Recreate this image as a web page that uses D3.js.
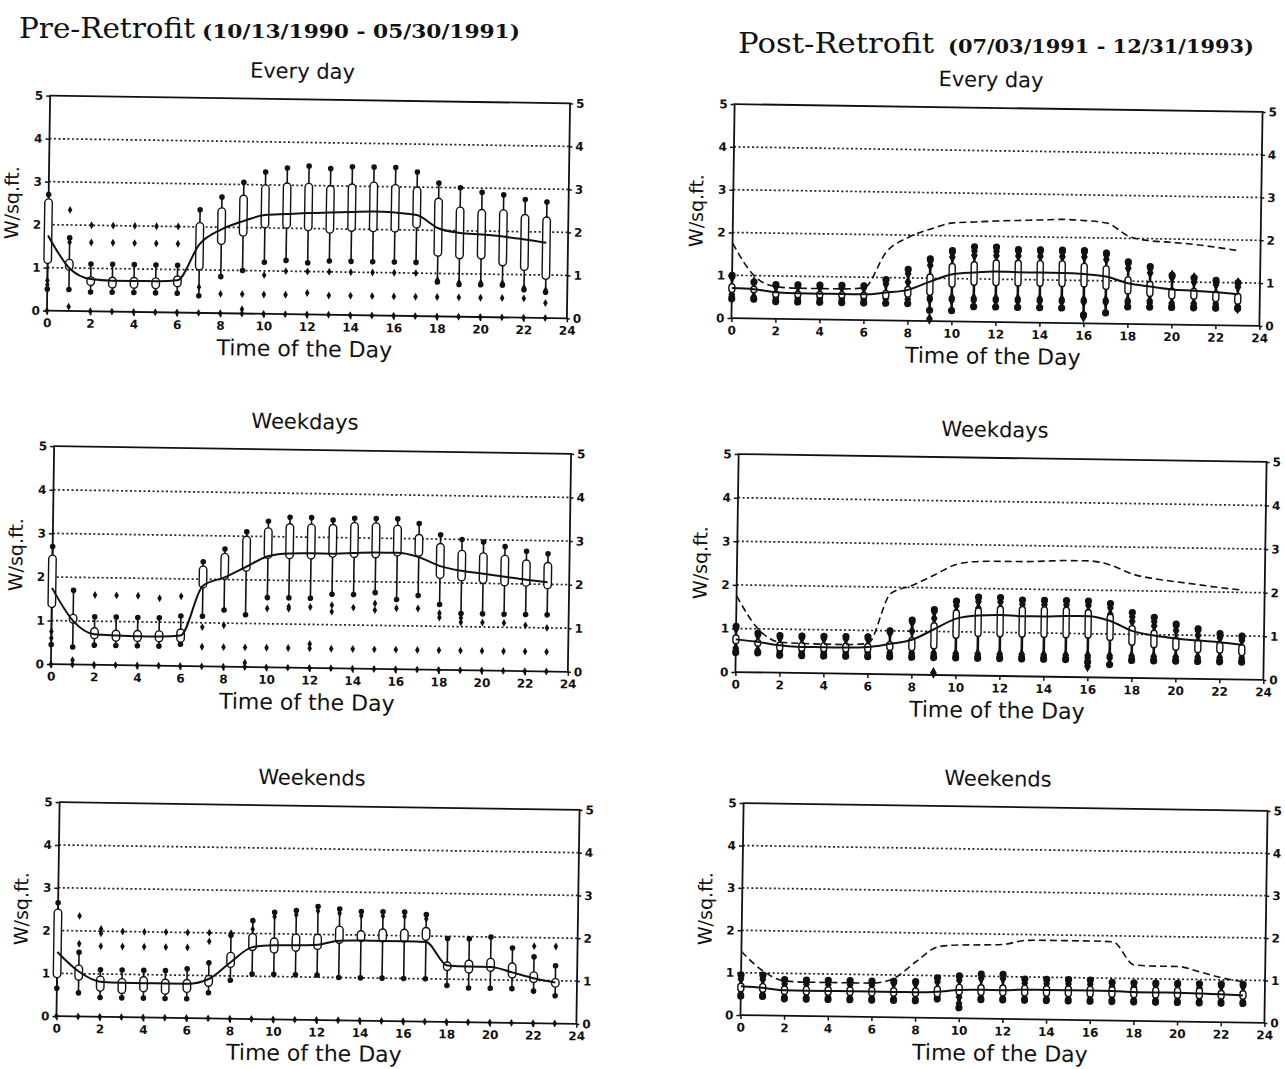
<!DOCTYPE html>
<html><head><meta charset="utf-8">
<script src="https://cdn.jsdelivr.net/npm/d3@7/dist/d3.min.js"></script>
<style>body{margin:0;background:#fff}</style>
</head><body>
<svg id="c" width="1285" height="1069" xmlns="http://www.w3.org/2000/svg"></svg>
<script>
// ---------- categories / ticks ----------
const hours = [0,1,2,3,4,5,6,7,8,9,10,11,12,13,14,15,16,17,18,19,20,21,22,23];
const xTicks = [0,2,4,6,8,10,12,14,16,18,20,22,24];
const yTicks = [0,1,2,3,4,5];
const yGrid = [1,2,3,4];

// ---------- Pre-retrofit, every day ----------
const preEveryMean = [1.75,1.0,0.75,0.72,0.72,0.72,0.75,1.6,1.95,2.15,2.3,2.33,2.36,2.38,2.4,2.42,2.4,2.35,2.05,1.95,1.92,1.88,1.82,1.75];
const preEveryQ1 = [1.1,0.95,0.6,0.55,0.55,0.55,0.6,1.0,1.6,1.8,2.0,2.0,1.95,1.9,1.95,1.95,1.95,2.05,1.4,1.35,1.35,1.2,1.1,0.9];
const preEveryQ3 = [2.6,1.2,0.8,0.8,0.8,0.8,0.85,2.1,2.45,2.75,3.0,3.05,3.05,3.0,3.05,3.1,3.05,3.0,2.75,2.55,2.5,2.5,2.4,2.35];
const preEveryLo = [0.5,0.5,0.45,0.45,0.45,0.45,0.45,0.4,0.85,1.0,1.2,1.25,1.2,1.25,1.25,1.25,1.25,1.25,0.8,0.75,0.75,0.75,0.65,0.6];
const preEveryHi = [2.7,1.7,1.1,1.1,1.1,1.1,1.1,2.4,2.7,3.05,3.3,3.4,3.45,3.4,3.45,3.45,3.45,3.35,3.1,3.0,2.9,2.85,2.75,2.7];
const preEveryOut = [[0.7,0.6,0],[2.35,1.6,0.1],[2.0,1.6,0],[2.0,1.6,0],[2.0,1.6,0],[2.0,1.6,0],[2.0,1.6,0],[0.6,0],[0.45,0],[0.45,0.1,0],[0.9,0.45,0],[1.0,0.45,0],[1.0,0.5,0],[1.0,0.45,0],[1.0,0.45,0],[1.0,0.45,0],[1.0,0.45,0],[1.0,0.45,0],[0.85,0.45,0],[0.8,0.45,0],[0.8,0.45,0],[0.8,0.45,0],[0.7,0.45,0],[0.65,0.35,0]];

// ---------- Pre-retrofit, weekdays ----------
const preWkdMean = [1.75,1.0,0.7,0.68,0.67,0.67,0.7,1.85,2.05,2.3,2.55,2.62,2.63,2.63,2.65,2.67,2.67,2.58,2.38,2.28,2.22,2.16,2.1,2.05];
const preWkdQ1 = [1.3,0.95,0.6,0.55,0.55,0.55,0.55,1.8,2.0,2.2,2.5,2.5,2.5,2.55,2.55,2.55,2.6,2.6,2.1,2.05,2.0,1.95,1.95,1.9];
const preWkdQ3 = [2.5,1.15,0.85,0.8,0.8,0.8,0.85,2.3,2.6,3.0,3.2,3.3,3.3,3.3,3.35,3.35,3.3,3.1,2.9,2.75,2.7,2.65,2.55,2.5];
const preWkdLo = [0.45,0.4,0.45,0.45,0.45,0.45,0.5,1.15,1.3,1.2,1.6,1.6,1.6,1.7,1.7,1.75,1.6,1.7,1.5,1.3,1.3,1.3,1.3,1.3];
const preWkdHi = [2.7,1.7,1.1,1.1,1.1,1.1,1.15,2.4,2.7,3.1,3.35,3.45,3.45,3.4,3.45,3.45,3.45,3.35,3.1,3.0,2.95,2.85,2.75,2.7];
const preWkdOut = [[0.75,0.6,0],[0.1,0],[1.6,0],[1.6,0],[1.6,0],[1.55,0],[1.6,0],[0.9,0.45,0],[0.95,0.45,0],[0.45,0.1,0],[1.35,0.45,0],[1.4,1.35,0.45,0],[1.4,0.55,0.45,0],[1.45,1.3,0.45,0],[1.4,0.45,0],[1.5,1.35,0.45,0],[1.4,0.45,0],[1.4,0.45,0],[1.3,1.2,0.45,0],[1.2,1.1,0.45,0],[1.1,0.45,0],[1.1,0.45,0],[1.05,0.45,0],[1.0,0.45,0]];

// ---------- Pre-retrofit, weekends ----------
const preWkeMean = [1.5,1.05,0.82,0.8,0.8,0.8,0.8,0.92,1.32,1.68,1.73,1.74,1.76,1.86,1.87,1.87,1.87,1.86,1.32,1.3,1.3,1.18,1.05,0.96];
const preWkeQ1 = [0.9,0.85,0.6,0.55,0.6,0.55,0.6,0.75,1.2,1.6,1.55,1.6,1.65,1.8,1.85,1.85,1.85,1.9,1.2,1.15,1.2,1.05,0.95,0.85];
const preWkeQ3 = [2.5,1.2,0.95,0.9,0.95,0.9,0.9,1.0,1.55,2.0,1.9,2.0,2.0,2.2,2.1,2.15,2.15,2.2,1.4,1.45,1.5,1.4,1.2,1.05];
const preWkeLo = [0.65,0.55,0.45,0.45,0.45,0.45,0.45,0.6,0.9,1.05,1.05,1.05,1.05,1.0,1.0,1.0,1.0,1.0,0.85,0.8,0.8,0.8,0.75,0.65];
const preWkeHi = [2.65,1.5,1.1,1.1,1.1,1.1,1.15,1.3,1.95,2.3,2.5,2.55,2.65,2.6,2.55,2.55,2.55,2.5,1.95,1.95,2.0,1.75,1.55,1.35];
const preWkeOut = [[0],[2.35,1.7,0],[2.05,1.95,1.65,0],[2.0,1.65,0],[2.0,1.65,0],[2.0,1.65,0],[2.0,1.65,0],[2.0,1.8,0],[2.0,0],[2.1,0],[2.4,0],[2.45,0],[2.55,0],[2.5,0],[2.45,0],[2.45,0],[2.45,0],[2.4,0],[0],[0],[0],[0],[1.8,0],[1.8,0]];

// ---------- Post-retrofit, every day ----------
const postEveryMean = [0.7,0.68,0.62,0.6,0.6,0.6,0.6,0.65,0.72,0.92,1.1,1.15,1.18,1.17,1.17,1.17,1.15,1.1,0.95,0.88,0.82,0.8,0.77,0.73];
const postEveryQ1 = [0.6,0.6,0.5,0.5,0.5,0.5,0.5,0.5,0.55,0.6,0.8,0.85,0.85,0.85,0.85,0.85,0.85,0.8,0.7,0.65,0.6,0.6,0.55,0.5];
const postEveryQ3 = [0.8,0.75,0.65,0.65,0.65,0.65,0.65,0.7,0.8,1.1,1.35,1.4,1.45,1.45,1.45,1.45,1.4,1.35,1.1,1.0,0.85,0.85,0.8,0.75];
const postEveryLo = [0.45,0.45,0.4,0.4,0.4,0.4,0.4,0.4,0.4,0.25,0.25,0.35,0.35,0.35,0.35,0.35,0.2,0.25,0.4,0.4,0.4,0.4,0.4,0.4];
const postEveryHi = [1.0,0.85,0.8,0.8,0.8,0.8,0.8,0.95,1.2,1.45,1.65,1.75,1.75,1.7,1.7,1.7,1.7,1.65,1.45,1.35,1.15,1.1,1.05,1.0];
const postEveryOut = [[0.5,0.55,0.95],[0.5,0.85],[0.45,0.5,0.75],[0.45,0.5,0.75],[0.45,0.5,0.75],[0.45,0.5,0.75],[0.45,0.5,0.75],[0.5,0.85],[0.5,0.9,1.1],[0.5,0.55,1.3,1.4,0.05],[0.5,0.55,1.5,1.6],[0.5,0.55,1.55,1.65],[0.5,0.55,1.55,1.65],[0.5,0.55,1.55,1.65],[0.5,0.55,1.55,1.65],[0.5,0.55,1.55,1.65],[0.5,0.55,1.55,1.65,0.15],[0.5,0.55,1.5,1.6],[0.5,0.55,1.3,1.4],[0.5,0.55,1.2,1.3],[0.45,0.5,1.1,1.15],[0.45,0.5,1.0,1.1],[0.45,0.5,0.95,1.0],[0.4,0.45,0.9,1.0]];

// ---------- Post-retrofit, weekdays ----------
const postWkdMean = [0.75,0.7,0.63,0.6,0.6,0.6,0.62,0.7,0.8,1.05,1.3,1.38,1.4,1.38,1.38,1.4,1.4,1.3,1.08,0.98,0.92,0.88,0.85,0.8];
const postWkdQ1 = [0.65,0.6,0.5,0.5,0.5,0.5,0.5,0.55,0.55,0.6,0.85,0.9,0.9,0.9,0.9,0.9,0.9,0.85,0.75,0.7,0.65,0.6,0.6,0.55];
const postWkdQ3 = [0.85,0.75,0.7,0.7,0.7,0.7,0.7,0.75,0.85,1.2,1.5,1.55,1.6,1.6,1.6,1.6,1.55,1.45,1.2,1.1,0.95,0.9,0.85,0.8];
const postWkdLo = [0.45,0.45,0.4,0.4,0.4,0.4,0.4,0.4,0.4,0.4,0.4,0.4,0.4,0.4,0.4,0.4,0.35,0.3,0.4,0.4,0.4,0.4,0.4,0.4];
const postWkdHi = [1.05,0.9,0.85,0.85,0.85,0.85,0.85,1.0,1.25,1.5,1.7,1.8,1.8,1.75,1.75,1.75,1.75,1.7,1.5,1.4,1.25,1.15,1.05,1.0];
const postWkdOut = [[0.5,0.55,1.0],[0.5,0.85],[0.45,0.5,0.8],[0.45,0.5,0.8],[0.45,0.5,0.8],[0.45,0.5,0.8],[0.45,0.5,0.8],[0.45,0.5,0.95],[0.45,0.5,1.0,1.2],[0.45,0.5,1.3,1.45,0.05],[0.45,0.5,1.45,1.6],[0.45,0.5,1.55,1.7],[0.45,0.5,1.55,1.7],[0.45,0.5,1.5,1.65],[0.45,0.5,1.5,1.65],[0.45,0.5,1.5,1.65],[0.45,0.5,1.5,1.65,0.25],[0.45,0.5,1.45,1.6],[0.45,0.5,1.3,1.4],[0.45,0.5,1.2,1.3],[0.45,0.5,1.1,1.2],[0.45,0.5,1.0,1.1],[0.45,0.5,0.95,1.0],[0.45,0.5,0.9,0.95]];

// ---------- Post-retrofit, weekends ----------
const postWkeMean = [0.68,0.65,0.6,0.6,0.6,0.6,0.6,0.6,0.6,0.62,0.67,0.68,0.68,0.7,0.7,0.7,0.7,0.7,0.68,0.68,0.68,0.67,0.66,0.64];
const postWkeQ1 = [0.55,0.55,0.5,0.5,0.5,0.5,0.5,0.5,0.5,0.5,0.55,0.55,0.55,0.55,0.55,0.55,0.55,0.55,0.55,0.55,0.55,0.55,0.55,0.55];
const postWkeQ3 = [0.75,0.75,0.7,0.7,0.7,0.7,0.7,0.7,0.7,0.75,0.8,0.8,0.8,0.8,0.8,0.8,0.8,0.8,0.8,0.8,0.8,0.8,0.75,0.75];
const postWkeLo = [0.45,0.45,0.4,0.4,0.4,0.4,0.4,0.4,0.4,0.45,0.25,0.45,0.45,0.45,0.45,0.45,0.45,0.45,0.45,0.45,0.45,0.45,0.45,0.45];
const postWkeHi = [0.95,0.95,0.85,0.85,0.85,0.85,0.85,0.85,0.85,0.95,1.0,1.05,1.05,0.95,0.95,0.95,0.95,0.9,0.9,0.9,0.9,0.9,0.9,0.9];
const postWkeOut = [[0.5,0.85],[0.5,0.85],[0.45,0.75],[0.45,0.75],[0.45,0.75],[0.45,0.75],[0.45,0.75],[0.45,0.8],[0.45,0.8],[0.5,0.85],[0.35,0.5,0.9],[0.5,0.95],[0.5,0.95],[0.5,0.85],[0.5,0.85],[0.5,0.85],[0.5,0.85],[0.5,0.8],[0.5,0.8],[0.5,0.85],[0.5,0.85],[0.5,0.8],[0.5,0.85],[0.5,0.85]];

// ---------- texts ----------
const preTitle = "Pre-Retrofit", preDates = "(10/13/1990 - 05/30/1991)";
const postTitle = "Post-Retrofit", postDates = "(07/03/1991 - 12/31/1993)";
const subTitles = ["Every day","Weekdays","Weekends"];
const xLabel = "Time of the Day", yLabel = "W/sq.ft.";

// ---------- layout ----------
const ROT = 0.85;
const panels = [
  {cx:308.5,cy:207,w:520,h:215,title:subTitles[0],mean:preEveryMean,q1:preEveryQ1,q3:preEveryQ3,lo:preEveryLo,hi:preEveryHi,out:preEveryOut,post:false},
  {cx:311,cy:559,w:517,h:218,title:subTitles[1],mean:preWkdMean,q1:preWkdQ1,q3:preWkdQ3,lo:preWkdLo,hi:preWkdHi,out:preWkdOut,post:false},
  {cx:318,cy:913,w:520,h:214,title:subTitles[2],mean:preWkeMean,q1:preWkeQ1,q3:preWkeQ3,lo:preWkeLo,hi:preWkeHi,out:preWkeOut,post:false},
  {cx:997,cy:215,w:528,h:214,title:subTitles[0],mean:postEveryMean,q1:postEveryQ1,q3:postEveryQ3,lo:postEveryLo,hi:postEveryHi,out:postEveryOut,post:true,ref:preEveryMean},
  {cx:1001,cy:567,w:528,h:218,title:subTitles[1],mean:postWkdMean,q1:postWkdQ1,q3:postWkdQ3,lo:postWkdLo,hi:postWkdHi,out:postWkdOut,post:true,ref:preWkdMean},
  {cx:1004,cy:913,w:524,h:212,title:subTitles[2],mean:postWkeMean,q1:postWkeQ1,q3:postWkeQ3,lo:postWkeLo,hi:postWkeHi,out:postWkeOut,post:true,ref:preWkeMean}
];

const svg = d3.select("#c");
const SANS = "'DejaVu Sans', sans-serif";
const SERIF = "'DejaVu Serif', serif";

// main titles
function mainTitle(x, y, t, tLen, d, dx, dLen) {
  svg.append("text").attr("x", x).attr("y", y).attr("fill", "#111")
    .attr("font-family", SERIF).attr("font-size", 28)
    .attr("textLength", tLen).attr("lengthAdjust", "spacingAndGlyphs").text(t);
  svg.append("text").attr("x", dx).attr("y", y).attr("fill", "#111")
    .attr("font-family", SERIF).attr("font-weight", "bold").attr("font-size", 18)
    .attr("textLength", dLen).attr("lengthAdjust", "spacingAndGlyphs").text(d);
}
mainTitle(19, 38, preTitle, 176, preDates, 202, 318);
mainTitle(738, 53, postTitle, 196, postDates, 948, 306);

panels.forEach(p => {
  const left = p.cx - p.w/2, right = p.cx + p.w/2, top = p.cy - p.h/2, bottom = p.cy + p.h/2;
  const g = svg.append("g").attr("transform", `rotate(${ROT},${p.cx},${p.cy})`);
  const x = d3.scaleLinear().domain([0,24]).range([left,right]);
  const y = d3.scaleLinear().domain([0,5]).range([bottom,top]);

  // subtitle
  g.append("text").attr("x", p.cx - 8).attr("y", top - 21).attr("text-anchor","middle")
    .attr("font-family", SANS).attr("font-size", 21).attr("fill","#111").text(p.title);

  // grid
  g.selectAll(".grid").data(yGrid).join("line")
    .attr("x1", left).attr("x2", right).attr("y1", d => y(d)).attr("y2", d => y(d))
    .attr("stroke","#222").attr("stroke-width",1.7).attr("stroke-dasharray","2,2.5");

  // axes
  const fmt = d3.format("d");
  const axL = g.append("g").attr("transform",`translate(${left},0)`)
    .call(d3.axisLeft(y).tickValues(yTicks).tickFormat(fmt).tickSize(4).tickPadding(3));
  const axR = g.append("g").attr("transform",`translate(${right},0)`)
    .call(d3.axisRight(y).tickValues(yTicks).tickFormat(fmt).tickSize(3).tickPadding(3));
  const axB = g.append("g").attr("transform",`translate(0,${bottom})`)
    .call(d3.axisBottom(x).tickValues(xTicks).tickFormat(fmt).tickSize(4).tickPadding(4));
  [axL, axR, axB].forEach(a => {
    a.select(".domain").remove();
    a.selectAll("line").attr("stroke","#111").attr("stroke-width",1.5);
    a.selectAll("text").attr("font-family", SANS).attr("font-weight","bold")
      .attr("font-size", 12).attr("fill","#111");
  });

  // frame
  g.append("rect").attr("x", left).attr("y", top).attr("width", p.w).attr("height", p.h)
    .attr("fill","none").attr("stroke","#111").attr("stroke-width",1.8);

  // axis labels
  g.append("text").attr("x", p.cx - 2).attr("y", Math.min(bottom + 42, 1061)).attr("text-anchor","middle")
    .attr("font-family", SANS).attr("font-size", 22).attr("fill","#111").text(xLabel);
  g.append("text").attr("transform", `translate(${left - 30},${p.cy}) rotate(-90)`)
    .attr("text-anchor","middle").attr("font-family", SANS).attr("font-size", 19)
    .attr("fill","#111").text(yLabel);

  // whiskers
  const ww = p.post ? 2.6 : 1.6;
  g.selectAll(".wh").data(hours).join("line")
    .attr("x1", h => x(h)).attr("x2", h => x(h))
    .attr("y1", (h,i) => y(p.lo[i])).attr("y2", (h,i) => y(p.hi[i]))
    .attr("stroke","#111").attr("stroke-width", ww);

  // outliers
  const outPts = [];
  hours.forEach((h,i) => p.out[i].forEach(v => outPts.push([h, v])));
  const symSmall = d3.symbol().type(d3.symbolDiamond).size(p.post ? 40 : 18);
  g.selectAll(".out").data(outPts).join("path")
    .attr("transform", d => `translate(${x(d[0])},${y(d[1])})`)
    .attr("d", symSmall).attr("fill","#111");

  // whisker ends
  const endPts = [];
  hours.forEach((h,i) => { endPts.push([h, p.lo[i]]); endPts.push([h, p.hi[i]]); });
  g.selectAll(".end").data(endPts).join("circle")
    .attr("cx", d => x(d[0])).attr("cy", d => y(d[1])).attr("r", p.post ? 3.6 : 2.8).attr("fill","#111");

  // boxes (capsules)
  const bw = p.post ? 6 : 7.5;
  g.selectAll(".box").data(hours).join("rect")
    .attr("x", h => x(h) - bw/2).attr("width", bw)
    .attr("y", (h,i) => y(p.q3[i])).attr("height", (h,i) => y(p.q1[i]) - y(p.q3[i]))
    .attr("rx", bw/2).attr("ry", bw/2)
    .attr("fill","#fff").attr("stroke","#111").attr("stroke-width",1.4);

  // reference (pre-retrofit) mean as dashed line
  if (p.ref) {
    g.append("path").datum(hours)
      .attr("d", d3.line().x(h => x(h)).y((h,i) => y(p.ref[i])).curve(d3.curveMonotoneX))
      .attr("fill","none").attr("stroke","#111").attr("stroke-width",1.6).attr("stroke-dasharray","7,4");
  }
  // mean line
  g.append("path").datum(hours)
    .attr("d", d3.line().x(h => x(h)).y((h,i) => y(p.mean[i])).curve(d3.curveMonotoneX))
    .attr("fill","none").attr("stroke","#111").attr("stroke-width",2);
});
</script>
</body></html>
